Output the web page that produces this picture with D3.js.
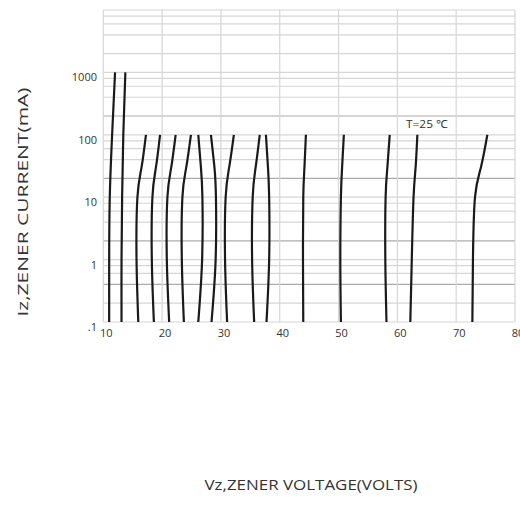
<!DOCTYPE html>
<html>
<head>
<meta charset="utf-8">
<script src="https://cdn.jsdelivr.net/npm/d3@7"></script>
<style>
  body { margin: 0; background: #fff; }
  text { font-family: "Open Sans", "Liberation Sans", sans-serif; fill: #333; }
</style>
</head>
<body>
<div id="chart"></div>
<script>
const width = 520, height = 507;

// tick labels
const xTicks = [10, 20, 30, 40, 50, 60, 70, 80];
const yTicks = [0.1, 1, 10, 100, 1000];
const yTickLabels = [".1", "1", "10", "100", "1000"];
// grid lines (mA): decades plus 2,4,6,8 of each decade
const yGrid = [0.1, 0.2, 0.4, 0.6, 0.8, 1, 2, 4, 6, 8, 10, 20, 40, 60, 80,
  100, 200, 400, 600, 800, 1000, 2000, 4000, 6000, 8000, 10000];
const yGridDark = [0.4, 2, 20, 200];

// current points where the voltage was read (mA)
const iLow = [0.1, 1, 10, 30, 100];
const iHigh = [0.1, 1, 10, 100, 1000];
// Vz (volts) at those currents, one row per device
const vzHigh = [
  [11.0, 11.0, 11.1, 11.5, 12.0],
  [13.1, 13.1, 13.2, 13.4, 13.75]
];
const vzLow = [
  [15.95, 15.65, 15.8, 16.5, 17.25],
  [18.6, 18.25, 18.35, 18.95, 19.65],
  [21.2, 20.8, 20.9, 21.55, 22.3],
  [23.7, 23.35, 23.45, 24.1, 24.9],
  [26.15, 26.8, 26.85, 26.6, 26.15],
  [28.4, 29.1, 29.15, 28.9, 28.3],
  [31.05, 30.7, 30.8, 31.4, 32.2],
  [35.65, 35.3, 35.4, 35.9, 36.6],
  [37.75, 38.2, 38.2, 38.0, 37.65],
  [44.0, 43.95, 44.0, 44.2, 44.45],
  [50.4, 50.3, 50.4, 50.6, 50.9],
  [58.15, 57.95, 58.0, 58.3, 58.7],
  [62.2, 62.45, 62.75, 63.1, 63.4],
  [72.75, 72.85, 73.2, 74.2, 75.3]
];

const svg = d3.select("#chart").append("svg")
    .attr("width", width)
    .attr("height", height);

const x = d3.scaleLinear().domain([10, 80]).range([103.3, 515]);
const y = d3.scaleLog().domain([0.1, 10000]).range([322, 10]);

// grid
svg.append("g").selectAll("line")
    .data(yGrid)
    .join("line")
    .attr("x1", x(10)).attr("x2", x(80))
    .attr("y1", d => y(d)).attr("y2", d => y(d))
    .attr("stroke", d => yGridDark.includes(d) ? "#acacac" : "#d6d6d6")
    .attr("stroke-width", 1.2);

svg.append("g").selectAll("line")
    .data(xTicks)
    .join("line")
    .attr("x1", d => x(d)).attr("x2", d => x(d))
    .attr("y1", y(10000)).attr("y2", y(0.1))
    .attr("stroke", "#d6d6d6")
    .attr("stroke-width", 1.2);

// tick labels
svg.append("g").selectAll("text")
    .data(xTicks)
    .join("text")
    .attr("x", d => x(d) + 3)
    .attr("y", 337)
    .attr("text-anchor", "middle")
    .attr("font-size", 11)
    .text(d => d);

svg.append("g").selectAll("text")
    .data(yTicks)
    .join("text")
    .attr("x", 97)
    .attr("y", d => y(d) + 9)
    .attr("text-anchor", "end")
    .attr("font-size", 11)
    .text((d, i) => yTickLabels[i]);

// curves
const line = d3.line()
    .x(d => x(d[0]))
    .y(d => y(d[1]))
    .curve(d3.curveNatural);

const curves = vzHigh.map(r => r.map((v, i) => [v, iHigh[i]]))
    .concat(vzLow.map(r => r.map((v, i) => [v, iLow[i]])));

svg.append("g").selectAll("path")
    .data(curves)
    .join("path")
    .attr("d", line)
    .attr("fill", "none")
    .attr("stroke", "#1a1a1a")
    .attr("stroke-width", 2.2);

svg.append("text")
    .attr("x", 406)
    .attr("y", 128)
    .attr("font-size", 11)
    .attr("textLength", 42)
    .attr("lengthAdjust", "spacingAndGlyphs")
    .text("T=25 ℃");

// axis titles
svg.append("text")
    .attr("transform", "translate(28,202) rotate(-90)")
    .attr("text-anchor", "middle")
    .attr("font-size", 15)
    .attr("textLength", 229)
    .attr("lengthAdjust", "spacingAndGlyphs")
    .text("Iz,ZENER CURRENT(mA)");

svg.append("text")
    .attr("x", 311)
    .attr("y", 490)
    .attr("text-anchor", "middle")
    .attr("font-size", 15)
    .attr("textLength", 213)
    .attr("lengthAdjust", "spacingAndGlyphs")
    .text("Vz,ZENER VOLTAGE(VOLTS)");
</script>
</body>
</html>
